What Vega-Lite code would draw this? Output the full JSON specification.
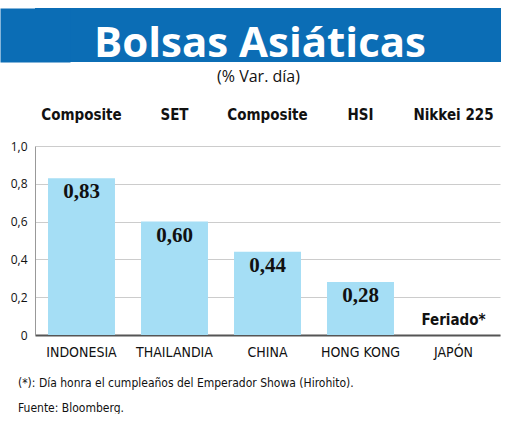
{
  "$schema": "https://vega.github.io/schema/vega-lite/v6.json",
  "background": "white",
  "padding": {"left": 0, "top": 8, "right": 0, "bottom": 0},
  "spacing": 4,
  "title": {
    "text": ["(*): Día honra el cumpleaños del Emperador Showa (Hirohito).", "Fuente: Bloomberg."],
    "orient": "bottom",
    "anchor": "start",
    "frame": "bounds",
    "dx": 18,
    "offset": 19,
    "font": "Liberation Sans Narrow, DejaVu Sans Condensed, sans-serif",
    "fontSize": 12,
    "fontWeight": "normal",
    "lineHeight": 25,
    "color": "#111"
  },
  "vconcat": [
    {
      "width": 466,
      "height": 54,
      "view": {"fill": "#0b6db5", "stroke": null},
      "data": {"values": [{"titulo": "Bolsas Asiáticas"}]},
      "mark": {"type": "text", "color": "white", "font": "Open Sans", "fontSize": 42, "fontWeight": "bold", "baseline": "alphabetic", "dx": -8, "dy": 22},
      "encoding": {
        "y": {
          "field": "titulo",
          "type": "nominal",
          "axis": {"title": null, "labels": false, "ticks": false, "grid": false, "domainColor": "#0b6db5", "domainWidth": 70, "minExtent": 0}
        },
        "text": {"field": "titulo"}
      }
    },
    {
      "width": 465,
      "height": 189,
      "view": {"stroke": null},
      "title": {
        "text": "(% Var. día)",
        "font": "Open Sans",
        "fontSize": 16,
        "fontWeight": "normal",
        "color": "#111",
        "anchor": "middle",
        "dx": -9,
        "offset": 22
      },
      "data": {
        "values": [
          {"pais": "INDONESIA", "indice": "Composite", "valor": 0.83, "etiqueta": "0,83"},
          {"pais": "THAILANDIA", "indice": "SET", "valor": 0.60, "etiqueta": "0,60"},
          {"pais": "CHINA", "indice": "Composite", "valor": 0.44, "etiqueta": "0,44"},
          {"pais": "HONG KONG", "indice": "HSI", "valor": 0.28, "etiqueta": "0,28"},
          {"pais": "JAPÓN", "indice": "Nikkei 225", "valor": null, "etiqueta": "Feriado*"}
        ]
      },
      "resolve": {"axis": {"x": "independent"}},
      "layer": [
        {
          "mark": {"type": "bar", "color": "#a5def5"},
          "encoding": {
            "x": {
              "field": "pais",
              "type": "nominal",
              "sort": null,
              "scale": {"paddingInner": 0.28, "paddingOuter": 0.14},
              "axis": {
                "orient": "bottom",
                "title": null,
                "labelAngle": 0,
                "ticks": false,
                "domainColor": "#555",
                "domainWidth": 2,
                "labelPadding": 10,
                "labelFont": "Liberation Sans Narrow, DejaVu Sans Condensed, sans-serif",
                "labelFontSize": 14,
                "labelColor": "#111"
              }
            },
            "y": {
              "field": "valor",
              "type": "quantitative",
              "scale": {"domain": [0, 1], "nice": false},
              "axis": {
                "title": null,
                "values": [0, 0.2, 0.4, 0.6, 0.8, 1],
                "tickCount": 6,
                "labelExpr": "datum.value == 0 ? '0' : replace(format(datum.value, '.1f'), '.', ',')",
                "labelOverlap": false,
                "labelFlush": false,
                "ticks": false,
                "labelPadding": 8,
                "minExtent": 35,
                "maxExtent": 35,
                "domainColor": "#999",
                "domainWidth": 1,
                "gridColor": "#cccccc",
                "gridWidth": 1,
                "labelFont": "Open Sans",
                "labelFontSize": 12,
                "labelColor": "#111"
              }
            }
          }
        },
        {
          "transform": [{"filter": "datum.valor != null"}],
          "mark": {"type": "text", "baseline": "top", "dy": 3, "font": "Liberation Serif", "fontSize": 21, "fontWeight": "bold", "color": "#111"},
          "encoding": {
            "x": {
              "field": "pais",
              "type": "nominal",
              "sort": null,
              "axis": {
                "orient": "top",
                "title": null,
                "labelAngle": 0,
                "domain": false,
                "ticks": false,
                "labelPadding": 24,
                "labelExpr": "datum.value == 'INDONESIA' ? 'Composite' : datum.value == 'THAILANDIA' ? 'SET' : datum.value == 'CHINA' ? 'Composite' : datum.value == 'HONG KONG' ? 'HSI' : 'Nikkei 225'",
                "labelFont": "Liberation Sans Narrow, DejaVu Sans Condensed, sans-serif",
                "labelFontSize": 15,
                "labelFontWeight": "bold",
                "labelColor": "#111"
              }
            },
            "y": {"field": "valor", "type": "quantitative"},
            "text": {"field": "etiqueta"}
          }
        },
        {
          "transform": [{"filter": "datum.valor == null"}],
          "mark": {"type": "text", "baseline": "alphabetic", "dy": -10, "font": "Liberation Sans Narrow, DejaVu Sans Condensed, sans-serif", "fontSize": 15, "fontWeight": "bold", "color": "#111"},
          "encoding": {
            "x": {"field": "pais", "type": "nominal", "sort": null, "axis": null},
            "y": {"datum": 0, "type": "quantitative"},
            "text": {"field": "etiqueta"}
          }
        }
      ]
    }
  ]
}
